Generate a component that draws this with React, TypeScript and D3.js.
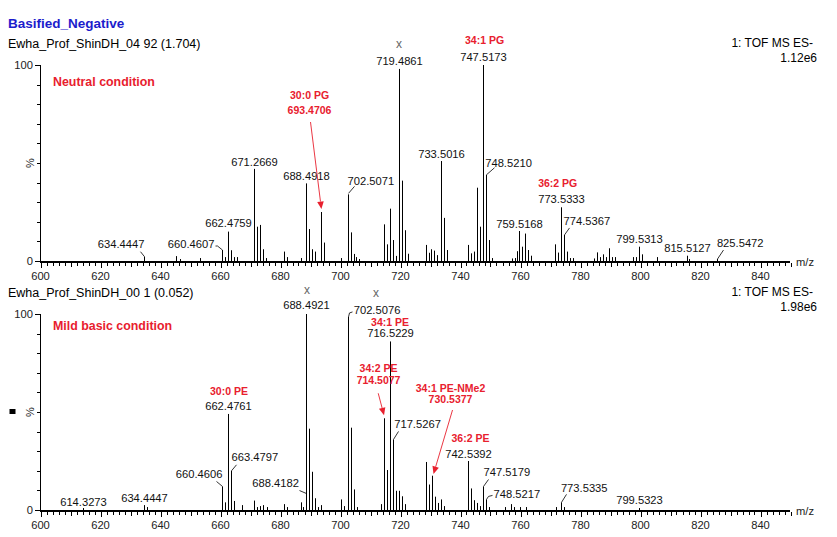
import * as d3 from 'd3';
import React from 'react';

type Peak = [number, number];

// spectrum 1: Ewha_Prof_ShinDH_04 92 (neutral) - [m/z, relative intensity %]
const neutralPeaks: Peak[] = [
  [634.44, 2.2], [645.3, 2.5], [646.5, 1], [653.3, 1.5], [660.46, 5.6], [661.5, 2],
  [662.48, 15], [663.5, 5.5], [664.5, 2], [665.5, 2], [671.27, 47], [672.3, 17.5],
  [673.3, 18.4], [674.3, 6], [675.3, 1.5], [681.3, 4.8], [682.3, 2], [686.7, 1.5],
  [688.49, 39.6], [689.5, 16.3], [690.5, 6], [691.5, 4.8], [693.47, 25], [694.5, 9.4],
  [700.0, 1.5], [702.51, 34], [703.5, 14.6], [704.5, 3.6], [705.2, 2], [706.0, 1],
  [714.5, 18.7], [715.5, 8.5], [716.5, 26.7], [717.5, 10.7], [718.5, 2.6], [719.49, 98],
  [720.5, 41], [721.5, 15.7], [722.5, 3.7], [728.5, 8.2], [729.5, 4.2], [730.3, 6],
  [731.3, 5.3], [732.3, 3], [733.5, 51], [734.5, 22], [735.5, 5.6], [742.5, 8.2],
  [743.5, 3.9], [744.5, 4.8], [745.5, 37.4], [746.5, 17.5], [747.52, 100], [748.52, 44],
  [749.5, 10.7], [750.5, 1.5], [757.0, 1.3], [758.0, 1.5], [758.8, 5], [759.52, 15.3],
  [760.5, 7.3], [761.5, 14], [762.5, 5.6], [763.5, 2.7], [771.5, 8.5], [772.5, 4.3],
  [773.53, 27.4], [774.54, 13.3], [775.5, 4.8], [776.5, 1.5], [777.5, 1.5], [784.5, 1.3],
  [785.5, 4.4], [786.5, 2], [787.5, 3.4], [788.5, 2], [789.5, 6.5], [790.5, 2],
  [791.5, 2], [797.5, 2], [798.5, 2], [799.53, 7.3], [800.5, 3.4], [805.5, 2],
  [815.51, 2.7], [816.3, 1], [825.55, 1],
];

// spectrum 2: Ewha_Prof_ShinDH_00 1 (mild basic)
const basicPeaks: Peak[] = [
  [614.33, 1], [634.44, 2.5], [635.5, 1.5], [660.46, 12], [661.5, 3.9], [662.48, 49],
  [663.48, 20], [664.5, 4.6], [667.0, 2.5], [671.3, 4.8], [672.3, 1.5], [673.3, 2],
  [674.3, 2.5], [675.5, 1.5], [681.3, 3], [682.3, 1.5], [686.8, 3.9], [687.5, 1.5],
  [688.42, 8.4], [688.49, 100], [689.5, 41.5], [690.5, 19.5], [691.5, 6], [692.5, 1.5],
  [693.5, 2.5], [700.0, 5.4], [701.0, 2], [702.51, 98.5], [703.5, 42], [704.5, 10.5],
  [705.5, 1.5], [713.5, 3], [714.51, 46.8], [715.5, 20.4], [716.52, 86], [717.53, 36],
  [718.5, 9.8], [719.5, 9.8], [720.5, 7], [721.5, 3], [728.5, 24.5], [729.5, 13],
  [730.54, 17.5], [731.5, 6.8], [732.5, 3.6], [733.5, 5.4], [734.5, 2], [742.54, 25],
  [743.5, 11], [744.5, 5], [745.5, 3.6], [746.5, 2], [747.52, 12], [748.52, 5.4],
  [749.5, 1.5], [754.8, 1.5], [756.7, 3], [757.8, 1.5], [759.8, 1.5], [761.8, 1.5],
  [771.8, 1.5], [773.53, 3.9], [774.5, 1.5], [799.53, 1],
];

const neutralLabels = [
  '634.4447', '660.4607', '662.4759', '671.2669', '688.4918', '702.5071', '719.4861',
  '733.5016', '747.5173', '748.5210', '759.5168', '773.5333', '774.5367', '799.5313',
  '815.5127', '825.5472',
];
const basicLabels = [
  '614.3273', '634.4447', '660.4606', '662.4761', '663.4797', '688.4182', '688.4921',
  '702.5076', '716.5229', '717.5267', '742.5392', '747.5179', '748.5217', '773.5335',
  '799.5323',
];

// peaks flagged with an "x"
const neutralMarked = ['719.4861'];
const basicMarked = ['688.4921', '702.5076'];

// red lipid assignments
const neutralNotes = [
  { mz: 747.5173, lines: ['34:1 PG'] },
  { mz: 693.4706, lines: ['30:0 PG', '693.4706'] },
  { mz: 773.5333, lines: ['36:2 PG'] },
];
const basicNotes = [
  { mz: 662.4761, lines: ['30:0 PE'] },
  { mz: 716.5229, lines: ['34:1 PE'] },
  { mz: 714.5077, lines: ['34:2 PE', '714.5077'] },
  { mz: 730.5377, lines: ['34:1 PE-NMe2', '730.5377'] },
  { mz: 742.5392, lines: ['36:2 PE'] },
];

const mzTicks = [600, 620, 640, 660, 680, 700, 720, 740, 760, 780, 800, 820, 840];
const pctTicks = [0, 100];

// label placement relative to the peak top
type Place = { a?: 'start' | 'middle' | 'end'; dx?: number; dy: number; lead?: number[][] };
const neutralPlace: Record<string, Place> = {
  '634.4447': { a: 'end', dx: 0, dy: -8.4, lead: [[0, 0], [-4, -5]] },
  '660.4607': { a: 'end', dx: -8, dy: -1.7, lead: [[0, 0], [-5, -4], [-7, -4]] },
  '662.4759': { dy: -4.3 },
  '671.2669': { dy: -3 },
  '688.4918': { dy: -3.4 },
  '702.5071': { a: 'start', dx: -1, dy: -9.4, lead: [[0, -1], [6, -8]] },
  '719.4861': { dy: -4 },
  '733.5016': { dy: -3.3 },
  '747.5173': { dy: -4 },
  '748.5210': { a: 'start', dx: -1.3, dy: -8, lead: [[0, 0], [8, -7]] },
  '759.5168': { dy: -2.7 },
  '773.5333': { dy: -4 },
  '774.5367': { a: 'start', dx: -1, dy: -10, lead: [[0, 0], [5, -7]] },
  '799.5313': { dy: -3.4 },
  '815.5127': { dy: -4 },
  '825.5472': { a: 'start', dx: -0.6, dy: -12.3, lead: [[0, 0], [6, -9]] },
};
const basicPlace: Record<string, Place> = {
  '614.3273': { dy: -2 },
  '634.4447': { dy: -3.4 },
  '660.4606': { a: 'end', dx: 0, dy: -8.2, lead: [[0, 0], [-6, -5]] },
  '662.4761': { dy: -4 },
  '663.4797': { a: 'start', dx: 0, dy: -9.8, lead: [[0, 0], [5, -6]] },
  '688.4182': { a: 'end', dx: -7.6, dy: -6.8, lead: [[0, 0], [-7, -3]] },
  '688.4921': { dy: -4.7 },
  '702.5076': { a: 'start', dx: 5.2, dy: -2.5, lead: [[0, 0], [1, -4], [4, -5]] },
  '716.5229': { dy: -4.7 },
  '717.5267': { a: 'start', dx: 0.7, dy: -11, lead: [[0, 0], [5, -8]] },
  '742.5392': { dy: -2.7 },
  '747.5179': { a: 'start', dx: 0, dy: -10.5, lead: [[0, 0], [5, -7]] },
  '748.5217': { a: 'start', dx: 7, dy: -1, lead: [[0, 0], [2, -3], [6, -4]] },
  '773.5335': { a: 'start', dx: -0.6, dy: -10.7, lead: [[0, 0], [5, -8]] },
  '799.5323': { dy: -3.7 },
};
const neutralMarkPlace: Record<string, number[]> = { '719.4861': [0, -21] };
const basicMarkPlace: Record<string, number[]> = { '688.4921': [1, -20], '702.5076': [28, -19.5] };

type NotePlace = { dx: number; dy: number[]; arrow?: number[] };
const neutralNotePlace: Record<string, NotePlace> = {
  '34:1 PG': { dx: 1.5, dy: [-21] },
  '30:0 PG': { dx: -11.4, dy: [-113, -97.7], arrow: [-10.4, -90, 0.5, -3] },
  '36:2 PG': { dx: -3.4, dy: [-20.6] },
};
const basicNotePlace: Record<string, NotePlace> = {
  '30:0 PE': { dx: 1, dy: [-18.5] },
  '34:1 PE': { dx: 0, dy: [-15.4] },
  '34:2 PE': { dx: -5.5, dy: [-46.6, -34], arrow: [-5.8, -25, 0, -3] },
  '34:1 PE-NMe2': { dx: 18.4, dy: [-84, -72.4], arrow: [20.4, -65.7, 1.4, -1.7] },
  '36:2 PE': { dx: 2.4, dy: [-18.7] },
};

const FONT = 'Liberation Sans, Arial, sans-serif';
const RED = '#e8202e';

interface PanelProps {
  y0: number;
  peaks: Peak[];
  labels: string[];
  place: Record<string, Place>;
  marked: string[];
  markPlace: Record<string, number[]>;
  notes: { mz: number; lines: string[] }[];
  notePlace: Record<string, NotePlace>;
  file: string;
  scan: string;
  condition: string;
  conditionY: number;
}

const Panel: React.FC<PanelProps> = ({
  y0, peaks, labels, place, marked, markPlace, notes, notePlace, file, scan, condition, conditionY,
}) => {
  const x = d3.scaleLinear().domain([600, 850]).range([40.5, 790.5]);
  const y = d3.scaleLinear().domain([0, 100]).range([y0, y0 - 196]);
  const nearest = (mz: number) =>
    peaks.reduce((b, p) => (Math.abs(p[0] - mz) < Math.abs(b[0] - mz) ? p : b));
  const minor = d3.range(600, 851, 2);
  const line = d3.line();

  return (
    <g fontFamily={FONT}>
      <text x={8} y={y0 - 213} fontSize={12.5}>{file}</text>
      <text x={813} y={y0 - 214} fontSize={12} textAnchor='end'>1: TOF MS ES-</text>
      <text x={817} y={y0 - 199} fontSize={12} textAnchor='end'>{scan}</text>
      <text x={53} y={conditionY} fontSize={12.4} fontWeight='bold' fill={RED}>{condition}</text>

      {/* y axis */}
      <line x1={40} x2={40} y1={y(100)} y2={y0} stroke='#000' shapeRendering='crispEdges' />
      {d3.range(0, 101, 10).map((v) => (
        <line key={v} x1={v % 100 === 0 ? 35 : 37} x2={40} y1={Math.round(y(v)) + 0.5} y2={Math.round(y(v)) + 0.5}
          stroke='#000' />
      ))}
      {pctTicks.map((v) => (
        <text key={v} x={33} y={y(v) + 4} fontSize={11.2} textAnchor='end' fill='#222'>{v}</text>
      ))}
      <text transform={`translate(30,${y(50)}) rotate(-90)`} fontSize={11} textAnchor='middle'
        dominantBaseline='central' fill='#222'>%</text>

      {/* peaks */}
      {peaks.map(([mz, v], i) => (
        <line key={i} x1={Math.round(x(mz)) + 0.5} x2={Math.round(x(mz)) + 0.5} y1={y0} y2={y(v)}
          stroke='#000' />
      ))}

      {/* x axis */}
      <rect x={40} y={y0} width={750} height={2} fill='#000' />
      {minor.map((v) => (
        <line key={v} x1={Math.round(x(v)) + 0.5} x2={Math.round(x(v)) + 0.5} y1={y0 + 2}
          y2={y0 + 2 + (v % 20 === 0 ? 5 : v % 10 === 0 ? 4 : 3)} stroke='#000' />
      ))}
      {mzTicks.map((v) => (
        <text key={v} x={x(v)} y={y0 + 19} fontSize={11.2} textAnchor='middle' fill='#222'>{v}</text>
      ))}
      <text x={796} y={y0 + 4.5} fontSize={11.2} fill='#222'>m/z</text>

      {/* peak labels */}
      {labels.map((t) => {
        const p = nearest(parseFloat(t));
        const px = Math.round(x(p[0])) + 0.5;
        const pt = y(p[1]);
        const s = place[t];
        return (
          <g key={t}>
            {s.lead && (
              <path d={line(s.lead.map(([a, b]) => [px + a, pt + b]) as [number, number][]) ?? ''}
                fill='none' stroke='#000' strokeWidth={0.8} />
            )}
            <text x={px + (s.dx ?? 0)} y={pt + s.dy} fontSize={11.2} textAnchor={s.a ?? 'middle'}
              fill='#111'>{t}</text>
          </g>
        );
      })}
      {marked.map((t) => {
        const p = nearest(parseFloat(t));
        const [dx, dy] = markPlace[t];
        return (
          <text key={t} x={x(p[0]) + dx} y={y(p[1]) + dy} fontSize={12} textAnchor='middle'
            fill='#666'>x</text>
        );
      })}

      {/* assignments */}
      {notes.map((n) => {
        const p = nearest(n.mz);
        const px = x(p[0]);
        const pt = y(p[1]);
        const s = notePlace[n.lines[0]];
        let head = null;
        if (s.arrow) {
          const [sx, sy, tx, ty] = [px + s.arrow[0], pt + s.arrow[1], px + s.arrow[2], pt + s.arrow[3]];
          const len = Math.hypot(tx - sx, ty - sy);
          const ux = (tx - sx) / len;
          const uy = (ty - sy) / len;
          const bx = tx - ux * 7.5;
          const by = ty - uy * 7.5;
          head = (
            <g>
              <line x1={sx} y1={sy} x2={bx} y2={by} stroke={RED} strokeWidth={0.9} />
              <polygon points={`${tx},${ty} ${bx - uy * 3.3},${by + ux * 3.3} ${bx + uy * 3.3},${by - ux * 3.3}`}
                fill={RED} />
            </g>
          );
        }
        return (
          <g key={n.lines[0]}>
            {n.lines.map((l, k) => (
              <text key={l} x={px + s.dx} y={pt + s.dy[k]} fontSize={10.5} fontWeight='bold'
                textAnchor='middle' fill={RED}>{l}</text>
            ))}
            {head}
          </g>
        );
      })}
    </g>
  );
};

export default function App() {
  return (
    <svg width={837} height={537} style={{ position: 'absolute', left: 0, top: 0, background: '#fff' }}>
      <rect width={837} height={537} fill='#fff' />
      <text x={8} y={28} fontFamily={FONT} fontSize={13.5} fontWeight='bold' fill='#1c1ccc'>
        Basified_Negative
      </text>
      <Panel y0={261} peaks={neutralPeaks} labels={neutralLabels} place={neutralPlace}
        marked={neutralMarked} markPlace={neutralMarkPlace} notes={neutralNotes}
        notePlace={neutralNotePlace} file='Ewha_Prof_ShinDH_04 92 (1.704)' scan='1.12e6'
        condition='Neutral condition' conditionY={86} />
      <Panel y0={510} peaks={basicPeaks} labels={basicLabels} place={basicPlace}
        marked={basicMarked} markPlace={basicMarkPlace} notes={basicNotes}
        notePlace={basicNotePlace} file='Ewha_Prof_ShinDH_00 1 (0.052)' scan='1.98e6'
        condition='Mild basic condition' conditionY={330} />
      <rect x={9.5} y={409} width={6} height={5} fill='#000' />
    </svg>
  );
}
